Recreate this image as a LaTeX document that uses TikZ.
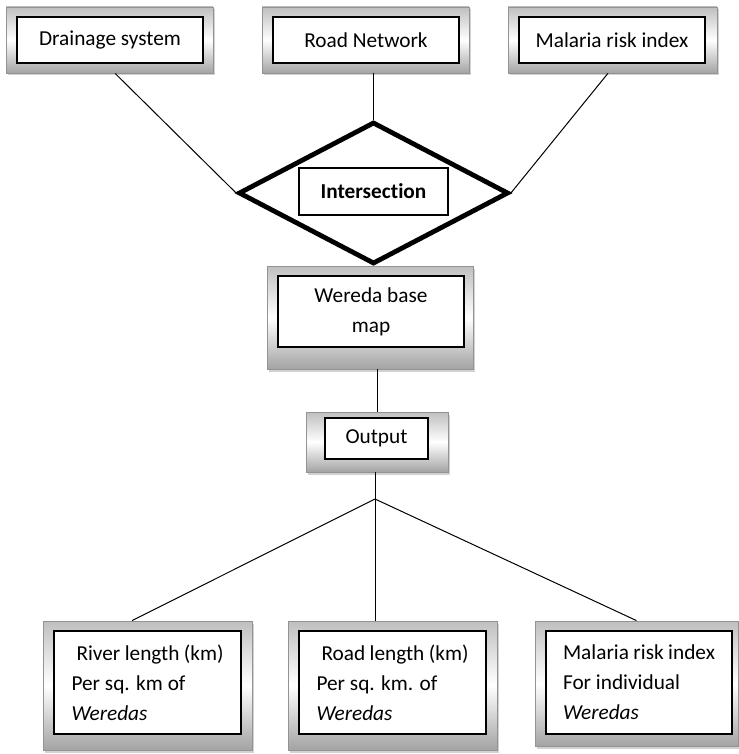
\documentclass[tikz,border=0pt]{standalone}
\usepackage{fontspec}
\setmainfont{Carlito}[Ligatures=NoCommon]
\usetikzlibrary{shapes.geometric,shadows,calc}
\begin{document}
\begin{tikzpicture}[x=1pt,y=-1pt,
  outerbox/.style={draw=gray!85, line width=0.8pt, inner sep=0pt,
    top color=gray!50, bottom color=gray!72, middle color=white,
    drop shadow={shadow xshift=1.5pt, shadow yshift=-2.5pt, fill=gray!35, opacity=1}},
  innerbox/.style={draw=black, line width=1.3pt, fill=white, inner sep=0pt,
    font=\fontsize{21.3}{30}\selectfont},
  conn/.style={draw=black, line width=1pt}]
\useasboundingbox (0,0) rectangle (738,754);

% top boxes
\node[outerbox, minimum width=207pt, minimum height=66pt] (drain) at (109.5,40) {};
\node[innerbox, minimum width=186pt, minimum height=46pt] (draini) at (110,40) {Drainage system};
\node[outerbox, minimum width=207pt, minimum height=66pt] (road) at (365.5,40) {};
\node[innerbox, minimum width=186pt, minimum height=46pt] (roadi) at (366,40) {Road Network};
\node[outerbox, minimum width=209pt, minimum height=66pt] (mal) at (612.5,40) {};
\node[innerbox, minimum width=186pt, minimum height=46pt] (mali) at (612,40) {Malaria risk index};

% diamond
\node[draw=black, line width=4.8pt, shape=diamond, inner sep=0pt, line join=miter,
  minimum width=270pt, minimum height=142pt] (dia) at (373.5,193) {};
\node[draw=black, line width=1.3pt, fill=white, inner sep=0pt,
  minimum width=149pt, minimum height=47pt, font=\fontsize{21.3}{30}\selectfont\bfseries] (inter) at (373.5,191.5) {Intersection};

% wereda base map
\node[outerbox, minimum width=206pt, minimum height=103pt] (wereda) at (370,317.5) {};
\node[innerbox, minimum width=186pt, minimum height=71pt, align=center] (weredai) at (371,311.5) {Wereda base\\map};

% output
\node[outerbox, minimum width=142pt, minimum height=60pt] (out) at (377,442) {};
\node[innerbox, minimum width=103pt, minimum height=41pt] (outi) at (376.5,438.5) {Output};

\coordinate (junc) at (375,499);

% bottom boxes
\node[outerbox, minimum width=209pt, minimum height=129pt] (resL) at (147.5,685.5) {};
\node[innerbox, minimum width=187pt, minimum height=103pt] (resLi) at (147.5,682.5)
  {\begin{minipage}{152pt}\hspace*{5pt}River length (km)\\Per sq. km of\\\textit{Weredas}\end{minipage}};
\node[outerbox, minimum width=209pt, minimum height=129pt] (resM) at (392.5,685.5) {};
\node[innerbox, minimum width=187pt, minimum height=103pt] (resMi) at (392.5,682.5)
  {\begin{minipage}{152pt}\hspace*{5pt}Road length (km)\\Per sq. km. of\\\textit{Weredas}\end{minipage}};
\node[outerbox, minimum width=203pt, minimum height=125pt] (resR) at (636.5,683.5) {};
\node[innerbox, minimum width=186pt, minimum height=103pt] (resRi) at (639,682.5)
  {\begin{minipage}{152pt}Malaria risk index\\For individual\\\textit{Weredas}\end{minipage}};

% connectors
\draw[conn] ($(drain.south west)!0.527!(drain.south east)$) -- (dia.west);
\draw[conn] (dia.north |- road.south) -- (dia.north);
\draw[conn] ($(mal.south west)!0.478!(mal.south east)$) -- (dia.east);
\draw[conn] (out.north |- wereda.south) -- (out.north);
\draw[conn] (out.south -| junc) -- (junc);
\draw[conn] (junc) -- ($(resL.north west)!0.426!(resL.north east)$);
\draw[conn] (junc) -- (junc |- resM.north);
\draw[conn] (junc) -- ($(resR.north west)!0.50!(resR.north east)$);
\end{tikzpicture}
\end{document}
